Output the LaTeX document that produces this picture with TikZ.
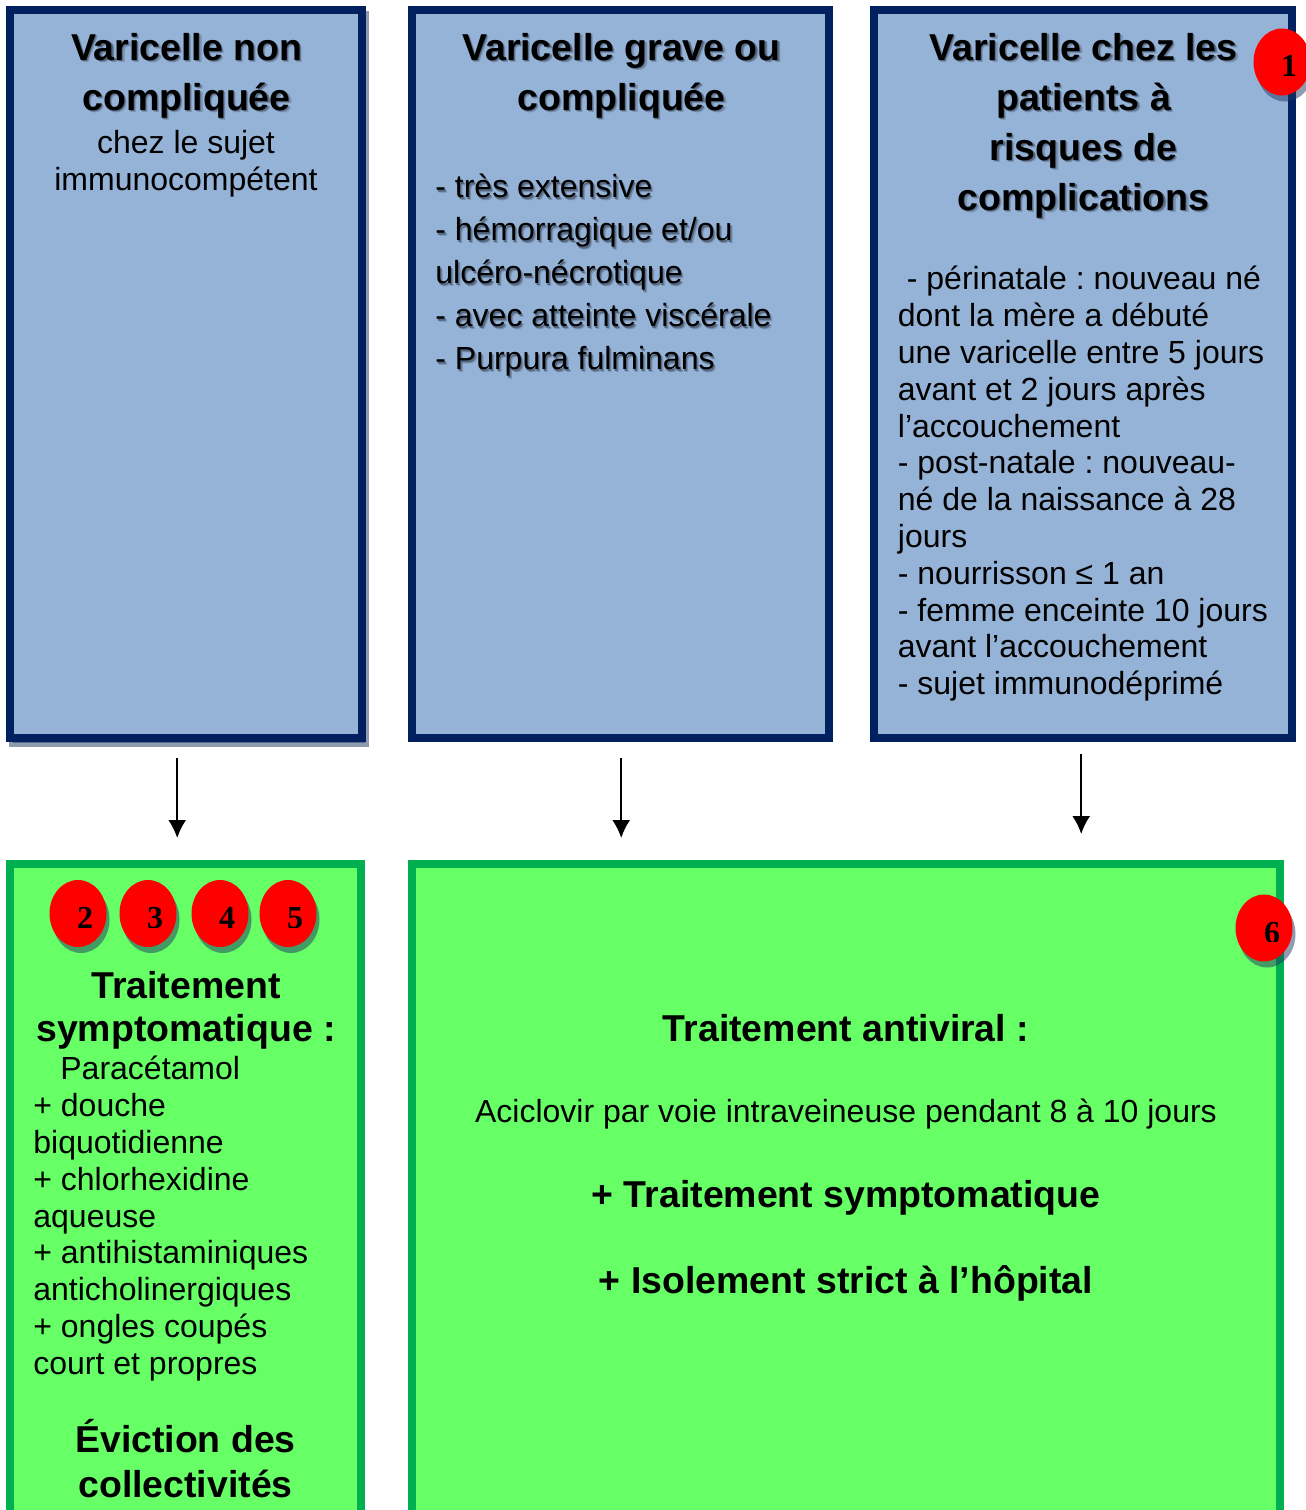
\documentclass[tikz,border=0pt]{standalone}
\usepackage{fontspec}
\setmainfont{Liberation Sans}
\newfontfamily\badgefont{Liberation Serif}
\usetikzlibrary{arrows.meta,shapes.geometric,shadows}

\definecolor{navyline}{HTML}{002060}
\definecolor{bluefill}{HTML}{95B3D7}
\definecolor{greenline}{HTML}{00B050}
\definecolor{greenfill}{HTML}{66FF66}
\definecolor{shadeblue}{HTML}{1F3864}
\definecolor{softfar}{HTML}{7A92B0}
\definecolor{softnear}{HTML}{55667F}

\newcommand{\softline}[1]{\leavevmode\rlap{\kern1.2pt\raisebox{-1.2pt}{\textcolor{softfar}{#1}}}\rlap{\kern.6pt\raisebox{-.6pt}{\textcolor{softnear}{#1}}}#1}

\begin{document}
\frenchspacing
\begin{tikzpicture}[x=.5pt,y=-.5pt]
	\useasboundingbox (0,0) rectangle (1306,1510);

	\tikzstyle{bluebox}=[rectangle, draw=navyline, fill=bluefill, line width=4pt, inner sep=0pt]
	\tikzstyle{greenbox}=[rectangle, draw=greenline, fill=greenfill, line width=4pt, inner sep=0pt]
	\tikzstyle{badge}=[ellipse, fill=red, inner sep=0pt, minimum width=28.5pt, minimum height=33.5pt, drop shadow={shadow xshift=1.5pt, shadow yshift=-3pt, fill=shadeblue, opacity=.5}]
	\tikzstyle{digit}=[inner sep=0pt, font=\badgefont\bfseries\fontsize{16}{16}\selectfont]
	\tikzstyle{heading}=[inner sep=0pt, align=center, font=\bfseries\fontsize{18.72}{25}\selectfont]
	\tikzstyle{body}=[inner sep=0pt, align=left, font=\fontsize{16}{18.4}\selectfont]
	\tikzstyle{link}=[-{Latex[length=9pt,width=9pt]}, line width=1pt]

	% UPPER BOXES
	\path (186,374) node[bluebox, minimum width=176pt, minimum height=364pt, drop shadow={shadow xshift=1.25pt, shadow yshift=-2.5pt, fill=shadeblue, draw=shadeblue, line width=4pt, opacity=.5}] (mild) {};
	\path (620.5,374) node[bluebox, minimum width=208.5pt, minimum height=364pt] (severe) {};
	\path (1083,374) node[bluebox, minimum width=209pt, minimum height=364pt] (risk) {};

	\path (186.5,33) node[heading, anchor=north] (mildtitle) {\softline{Varicelle non}\\\softline{compliquée}};
	\path (186,130) node[body, anchor=north, align=center] (mildtext) {chez le sujet\\immunocompétent};

	\path (621.5,33) node[heading, anchor=north] (severetitle) {\softline{Varicelle grave ou}\\\softline{compliquée}};
	\path (435,174) node[body, anchor=north west, font=\fontsize{16}{21.5}\selectfont] (severetext) {\softline{- très extensive}\\\softline{- hémorragique et/ou}\\\softline{ulcéro-nécrotique}\\\softline{- avec atteinte viscérale}\\\softline{- Purpura fulminans}};

	\path (1083.5,33) node[heading, anchor=north] (risktitle) {\softline{Varicelle chez les}\\\softline{patients à}\\\softline{risques de}\\\softline{complications}};
	\path (897.5,266) node[body, anchor=north west] (risktext) {\hspace*{4.5pt}- périnatale : nouveau né\\dont la mère a débuté\\une varicelle entre 5 jours\\avant et 2 jours après\\l’accouchement\\- post-natale : nouveau-\\né de la naissance à 28\\jours\\- nourrisson ≤ 1 an\\- femme enceinte 10 jours\\avant l’accouchement\\- sujet immunodéprimé};

	% LOWER BOXES
	\path (185.5,1195) node[greenbox, minimum width=175.5pt, minimum height=331pt] (care) {};
	\path (846,1195) node[greenbox, minimum width=434pt, minimum height=331pt] (antiviral) {};

	\path (186,971) node[heading, anchor=north, font=\bfseries\fontsize{18.72}{21.5}\selectfont] (caretitle) {Traitement\\symptomatique :};
	\path (33,1056) node[body, anchor=north west] (caretext) {\hspace*{13.5pt}Paracétamol\\+ douche\\biquotidienne\\+ chlorhexidine\\aqueuse\\+ antihistaminiques\\anticholinergiques\\+ ongles coupés\\court et propres};
	\path (185.5,1419) node[heading, anchor=north, font=\bfseries\fontsize{18.72}{22.5}\selectfont] (carenote) {Éviction des\\collectivités};

	\path (846,1041) node[heading, anchor=base] (antiviraltitle) {Traitement antiviral :};
	\path (846,1122) node[body, anchor=base] (antiviraltext) {Aciclovir par voie intraveineuse pendant 8 à 10 jours};
	\path (846,1207) node[heading, anchor=base] (antiviralcare) {+ Traitement symptomatique};
	\path (846,1293) node[heading, anchor=base] (antiviralward) {+ Isolement strict à l’hôpital};

	% ARROWS
	\coordinate (mildout) at (177.2,758);
	\coordinate (mildin) at (177.2,838);
	\coordinate (severeout) at (621.2,758);
	\coordinate (severein) at (621.2,838);
	\coordinate (riskout) at (1081.2,754);
	\coordinate (riskin) at (1081.2,834);
	\draw[link] (mildout) -- (mildin);
	\draw[link] (severeout) -- (severein);
	\draw[link] (riskout) -- (riskin);

	% BADGES
	\path (1282,62) node[badge] (badgeone) {};
	\path (78,913.5) node[badge] (badgetwo) {};
	\path (148,913.5) node[badge] (badgethree) {};
	\path (220,913.5) node[badge] (badgefour) {};
	\path (288,913.5) node[badge] (badgefive) {};
	\path (1264,928) node[badge] (badgesix) {};
	\begin{scope}
		\clip (1270,30) rectangle (1306,78) (70,900) rectangle (320,927) (1255,915) rectangle (1290,941);
		\path (1289,66) node[digit] (digitone) {1};
		\path (85,918) node[digit] (digittwo) {2};
		\path (155,918) node[digit] (digitthree) {3};
		\path (227,918) node[digit] (digitfour) {4};
		\path (295,918) node[digit] (digitfive) {5};
		\path (1272,933) node[digit] (digitsix) {6};
	\end{scope}
\end{tikzpicture}
\end{document}
